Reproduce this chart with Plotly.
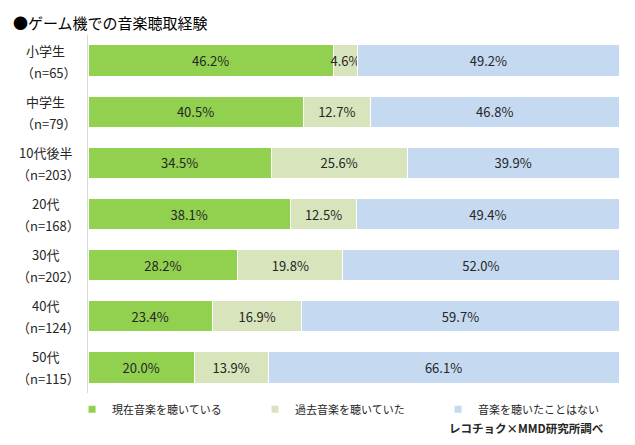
import plotly.graph_objects as go

categories = ["小学生", "中学生", "10代後半", "20代", "30代", "40代", "50代"]
sample_sizes = ["（n=65）", "（n=79）", "（n=203）", "（n=168）", "（n=202）", "（n=124）", "（n=115）"]
current = [46.2, 40.5, 34.5, 38.1, 28.2, 23.4, 20.0]
past = [4.6, 12.7, 25.6, 12.5, 19.8, 16.9, 13.9]
never = [49.2, 46.8, 39.9, 49.4, 52.0, 59.7, 66.1]
series_names = ["現在音楽を聴いている", "過去音楽を聴いていた", "音楽を聴いたことはない"]
colors = ["#92D050", "#D8E4BC", "#C5D9F1"]

FONT = "Noto Sans CJK JP, Meiryo, sans-serif"

fig = go.Figure()
for name, vals, col in zip(series_names, [current, past, never], colors):
    fig.add_trace(go.Bar(
        y=categories, x=vals, orientation="h", name=name,
        marker=dict(color=col, line=dict(color="white", width=1)),
        text=[f"{v:.1f}%" for v in vals], textposition="inside",
        insidetextanchor="middle", constraintext="none", textangle=0,
        textfont=dict(family=FONT, size=13, color="#262626"),
        hoverinfo="skip", showlegend=False,
    ))
    fig.add_trace(go.Scatter(
        x=[None], y=[None], mode="markers", name=name,
        marker=dict(symbol="square", size=7, color=col),
    ))

for cat, n in zip(categories, sample_sizes):
    fig.add_annotation(
        x=-0.080, xref="paper", y=cat, yref="y", yshift=10.5,
        text=cat, showarrow=False, xanchor="center", yanchor="middle",
        font=dict(family=FONT, size=13, color="#262626"),
    )
    fig.add_annotation(
        x=-0.074, xref="paper", y=cat, yref="y", yshift=-11.5,
        text=n, showarrow=False, xanchor="center", yanchor="middle",
        font=dict(family=FONT, size=13, color="#262626"),
    )

fig.add_annotation(
    x=-0.145, xref="paper", y=1.036, yref="paper", yanchor="middle",
    xanchor="left", text="●ゲーム機での音楽聴取経験", showarrow=False,
    font=dict(family=FONT, size=15, color="#000000"),
)
fig.add_annotation(
    x=0.975, xref="paper", y=-0.098, yref="paper", xanchor="right",
    yanchor="middle", text="<b>レコチョク×MMD研究所調べ</b>", showarrow=False,
    font=dict(family=FONT, size=11.5, color="#262626"),
)

fig.update_layout(
    width=635, height=445,
    margin=dict(l=88, r=16, t=35, b=52, autoexpand=False),
    barmode="stack", bargap=0.39,
    plot_bgcolor="white", paper_bgcolor="white",
    font=dict(family=FONT, size=12, color="#262626"),
    xaxis=dict(range=[0, 100], visible=False, fixedrange=True),
    yaxis=dict(autorange="reversed", showticklabels=False, showgrid=False,
               showline=True, linecolor="#D9D9D9", linewidth=1,
               ticks="", zeroline=False),
    legend=dict(orientation="h", x=-0.03, xanchor="left", y=-0.005,
                yanchor="top", entrywidth=138, entrywidthmode="pixels",
                itemwidth=30, traceorder="normal",
                font=dict(family=FONT, size=11, color="#262626"),
                bgcolor="rgba(0,0,0,0)"),
)

fig.write_html("out.html", config={"displayModeBar": False})
with open("out.html", encoding="utf-8") as f:
    html = f.read()
html = html.replace("<head>", "<head><style>html,body{margin:0;padding:0;overflow:hidden;}</style>", 1)
with open("out.html", "w", encoding="utf-8") as f:
    f.write(html)
